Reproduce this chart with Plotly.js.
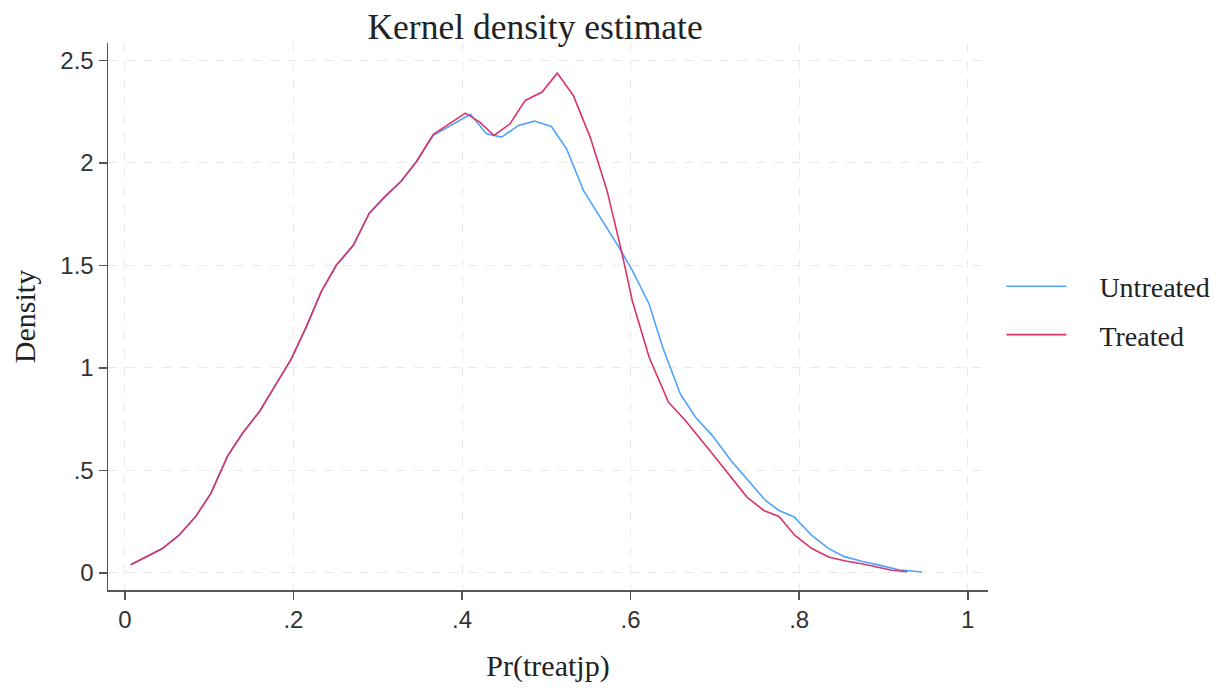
<!DOCTYPE html>
<html>
<head>
<meta charset="utf-8">
<script src="https://cdn.plot.ly/plotly-3.0.1.min.js"></script>
<style>html,body{margin:0;padding:0;background:#fff;}#chart{width:1223px;height:690px;}</style>
</head>
<body>
<div id="chart"></div>
<script>
// Untreated group density
const untreatedX = [0.007,0.025,0.044,0.064,0.084,0.102,0.122,0.140,0.160,0.179,0.197,0.215,0.233,0.251,0.271,0.290,0.308,0.328,0.346,0.366,0.386,0.410,0.429,0.447,0.467,0.486,0.506,0.524,0.544,0.564,0.586,0.602,0.622,0.638,0.659,0.677,0.697,0.719,0.738,0.760,0.776,0.794,0.815,0.835,0.853,0.874,0.896,0.918,0.946];
const untreatedY = [0.040,0.078,0.118,0.183,0.275,0.388,0.571,0.684,0.789,0.919,1.041,1.198,1.372,1.502,1.598,1.755,1.833,1.912,2.007,2.135,2.180,2.237,2.142,2.126,2.183,2.204,2.178,2.069,1.866,1.736,1.589,1.476,1.312,1.101,0.873,0.760,0.670,0.549,0.459,0.354,0.305,0.273,0.183,0.119,0.081,0.057,0.037,0.016,0.005];
// Treated group density
const treatedX = [0.007,0.025,0.044,0.064,0.084,0.102,0.122,0.140,0.160,0.179,0.197,0.215,0.233,0.251,0.271,0.290,0.308,0.328,0.346,0.366,0.386,0.404,0.421,0.438,0.457,0.475,0.495,0.513,0.532,0.552,0.572,0.590,0.602,0.622,0.645,0.665,0.697,0.717,0.738,0.758,0.776,0.795,0.815,0.835,0.855,0.874,0.894,0.910,0.928];
const treatedY = [0.040,0.078,0.118,0.183,0.275,0.388,0.571,0.684,0.789,0.919,1.041,1.198,1.372,1.502,1.598,1.755,1.833,1.912,2.007,2.140,2.195,2.243,2.199,2.134,2.191,2.305,2.346,2.438,2.329,2.126,1.866,1.555,1.328,1.052,0.833,0.744,0.581,0.476,0.370,0.305,0.276,0.183,0.119,0.078,0.058,0.045,0.026,0.013,0.006];

const seriesNames = ["Untreated", "Treated"];
const xTickVals = [0, 0.2, 0.4, 0.6, 0.8, 1];
const xTickText = ["0", ".2", ".4", ".6", ".8", "1"];
const yTickVals = [0, 0.5, 1, 1.5, 2, 2.5];
const yTickText = ["0", ".5", "1", "1.5", "2", "2.5"];

const serif = "Liberation Serif, Times New Roman, serif";
const sans = "Liberation Sans, Arial, sans-serif";

const traces = [
  {x: untreatedX, y: untreatedY, name: "\u00a0\u00a0\u00a0\u00a0" + seriesNames[0], mode: "lines", type: "scatter",
   legendgroup: "a", line: {color: "#4da3ff", width: 1.6}},
  {x: treatedX, y: treatedY, name: "\u00a0\u00a0\u00a0\u00a0" + seriesNames[1], mode: "lines", type: "scatter",
   legendgroup: "b", line: {color: "#d8336b", width: 1.6}}
];

const axisCommon = {
  showline: true, linecolor: "#555", linewidth: 1.5,
  ticks: "outside", ticklen: 8, tickcolor: "#555", tickwidth: 1.5,
  showgrid: true, gridcolor: "#e9e9e9", griddash: "dash", gridwidth: 1,
  zeroline: false, tickfont: {family: sans, size: 24, color: "#333"},
  mirror: false
};

const layout = {
  width: 1223, height: 690,
  margin: {l: 108, r: 235, t: 43, b: 100, autoexpand: false},
  paper_bgcolor: "#fff", plot_bgcolor: "#fff",
  title: {text: "Kernel density estimate", font: {family: serif, size: 35.5, color: "#222"},
          x: 0.4375, xref: "container", xanchor: "center", y: 0.962, yref: "container", yanchor: "middle"},
  xaxis: Object.assign({}, axisCommon, {
    range: [-0.02, 1.024], tickvals: xTickVals, ticktext: xTickText,
    title: {text: "Pr(treatjp)", font: {family: serif, size: 30, color: "#222"}, standoff: 22}
  }),
  yaxis: Object.assign({}, axisCommon, {
    range: [-0.083, 2.585], tickvals: yTickVals, ticktext: yTickText,
    title: {text: "Density", font: {family: serif, size: 30, color: "#222"}, standoff: 16}
  }),
  showlegend: true,
  legend: {x: 1.0152, xanchor: "left", y: 0.511, yanchor: "middle",
           font: {family: serif, size: 28, color: "#222"}, itemwidth: 60,
           tracegroupgap: 9, bgcolor: "rgba(0,0,0,0)"}
};

Plotly.newPlot("chart", traces, layout, {displayModeBar: false, staticPlot: true});
</script>
</body>
</html>
